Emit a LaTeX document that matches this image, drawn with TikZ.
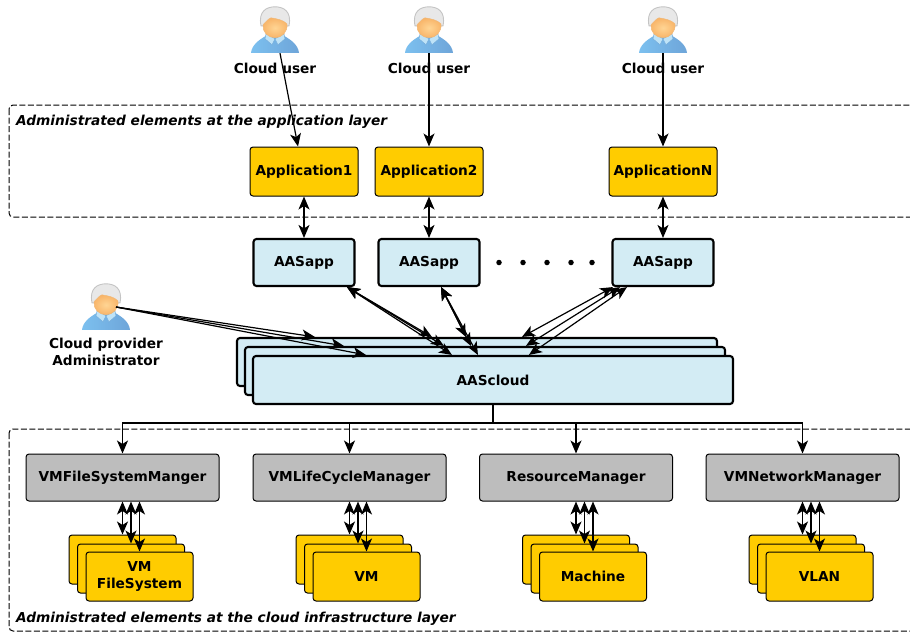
\documentclass[tikz,border=0pt]{standalone}
\usepackage{fontspec}
\setmainfont{DejaVu Sans}
\usetikzlibrary{arrows.meta}
\usetikzlibrary{positioning}
\definecolor{appyellow}{HTML}{FFCC00}
\definecolor{aasblue}{HTML}{D3ECF4}
\definecolor{mgrgray}{HTML}{BDBDBD}
\definecolor{shirtl}{HTML}{7CC0EF}
\definecolor{shirtm}{HTML}{A8DCF8}
\definecolor{shirtr}{HTML}{6EA5D9}
\definecolor{collar}{HTML}{BFE3F7}
\definecolor{collarline}{HTML}{6FA8D8}
\definecolor{hairline}{HTML}{C4C4C4}
\definecolor{hair}{HTML}{E8E8E8}
\definecolor{faceline}{HTML}{F0B878}
\definecolor{facel}{HTML}{FFD594}
\definecolor{facer}{HTML}{F8B468}
\newcommand\lblfont{\fontsize{13.7}{16}\selectfont\bfseries}
\tikzset{
	box/.style={rectangle,rounded corners=3pt,draw=black,inner sep=0pt,align=center,font=\lblfont},
	appbox/.style={box,fill=appyellow,line width=1pt,minimum width=108pt,minimum height=49pt,text height=10pt,text depth=3pt},
	aasbox/.style={box,fill=aasblue,line width=2.1pt,minimum width=101pt,minimum height=47pt,text height=10pt,text depth=3pt},
	cloudbox/.style={box,fill=aasblue,line width=2.1pt,minimum width=480pt,minimum height=48pt},
	mgrbox/.style={box,fill=mgrgray,line width=1pt,minimum width=193pt,minimum height=47pt,text height=10pt,text depth=3pt},
	resbox/.style={box,fill=appyellow,line width=1pt,minimum width=107pt,minimum height=49pt},
	layer/.style={draw=black,line width=1pt,rounded corners=4pt,dash pattern=on 6pt off 2.5pt},
	layertxt/.style={anchor=west,inner sep=0pt,font=\fontsize{13.7}{16}\selectfont\bfseries\itshape},
	lbl/.style={inner sep=0pt,align=center,font=\lblfont},
	iconbox/.style={inner sep=0pt,minimum width=48pt,minimum height=46pt},
	dotn/.style={circle,fill=black,inner sep=0pt,minimum size=5.5pt},
	one/.style={-{Stealth[length=13pt,width=11pt,inset=3.5pt]},line width=1.2pt},
	two/.style={{Stealth[length=13pt,width=11pt,inset=3.5pt]}-{Stealth[length=13pt,width=11pt,inset=3.5pt]},line width=1.2pt},
	person/.pic={
		% origin is the top of the head
		\draw[draw=none,left color=shirtl,middle color=shirtm,right color=shirtr]
			(-24,46) .. controls (-23,38) and (-16,33) .. (-9,29) -- (9,29)
			.. controls (16,33) and (23,38) .. (24,46) -- cycle;
		\draw[draw=collarline,line width=.4pt,fill=collar] (-9,27) -- (0,32) -- (-3,38) -- (-10,32) -- cycle;
		\draw[draw=collarline,line width=.4pt,fill=collar] (9,27) -- (0,32) -- (3,38) -- (10,32) -- cycle;
		\draw[draw=hairline,line width=.9pt,fill=hair] (-14,19) .. controls (-17,4) and (-8,0) .. (0,0)
			.. controls (8,0) and (17,4) .. (14,19) -- cycle;
		\draw[draw=faceline,line width=.4pt,inner color=facel,outer color=facer] (-12,18) .. controls (-9,15) and (-7,12) .. (-4,11)
			.. controls (2,12) and (8,13) .. (12,17) .. controls (13,25) and (7,31) .. (0,31)
			.. controls (-7,31) and (-13,25) .. (-12,18) -- cycle;
	},
}

\begin{document}
\begin{tikzpicture}[x=1pt,y=-1pt]
	\clip (0,0) rectangle (910,632);
	\useasboundingbox (0,0) rectangle (910,632);

	% layer frames, open on the right
	\draw[layer] (9,105) rectangle (930,217);
	\draw[layer] (9,429) rectangle (930,631);
	\node[layertxt] (layerapp) at (16,121.5) {Administrated elements at the application layer};
	\node[layertxt] (layerinf) at (16,618.5) {Administrated elements at the cloud infrastructure layer};

	% users
	\foreach \n/\x in {1/275, 2/429, 3/663}{
		\node[iconbox] (user\n) at (\x,30) {};
		\pic at (user\n.north) {person};
		\node[lbl,below=10pt of user\n] (usertxt\n) {Cloud user};
	}
	\node[iconbox] (admin) at (106,307) {};
	\pic at (admin.north) {person};
	\node[lbl,below=8pt of admin] (admintxt) {Cloud provider\\[.5pt]Administrator};

	% applications and AASapp row
	\node[appbox] (app1) at (304,171.5) {Application1};
	\node[appbox] (app2) at (429,171.5) {Application2};
	\node[appbox] (app3) at (663,171.5) {ApplicationN};
	\node[aasbox] (aas1) at (304,262.5) {AASapp};
	\node[aasbox] (aas2) at (429,262.5) {AASapp};
	\node[aasbox] (aas3) at (663,262.5) {AASapp};
	\foreach \n/\x in {1/499, 2/523, 3/547, 4/571, 5/592}
	\node[dotn] (dot\n) at (\x,262.5) {};

	% AAScloud stack
	\node[cloudbox] (cloudb) at (477,362) {};
	\node[cloudbox] (cloudm) at (485,371) {};
	\node[cloudbox] (cloudf) at (493,380) {AAScloud};

	% managers and what they manage
	\draw[line width=2pt] (cloudf.south) -- ++(0,18);
	\foreach \n/\x/\txt/\res in {1/122.5/VMFileSystemManger/{VM\\[1pt]FileSystem},
		2/349.5/VMLifeCycleManager/VM,
		3/576/ResourceManager/Machine,
		4/802.5/VMNetworkManager/VLAN}{
		\node[mgrbox] (mgr\n) at (\x,477.5) {\txt};
		\node[resbox] (resb\n) at (\x,559.5) {};
		\node[resbox] (resm\n) at (\x+8.5,568.5) {};
		\node[resbox] (resf\n) at (\x+17,576.5) {\res};
		\draw[one] (cloudf.south) -- ++(0,18) -| (mgr\n.north);
		\foreach \r in {b,m,f}
		\draw[two] (res\r\n.north |- mgr\n.south) -- (res\r\n.north);
	}

	% user arrows
	\draw[one] ([xshift=5pt]user1.south) -- ([xshift=-6pt]app1.north);
	\draw[one] (user2.south) -- (app2.north);
	\draw[one] (user3.south) -- (app3.north);
	\foreach \n in {1,2,3}
	\draw[two] (app\n.south) -- (aas\n.north);

	% AASapp to AAScloud
	\draw[two] ([xshift=43pt]aas1.south) -- ([xshift=196pt]cloudb.north west);
	\draw[two] ([xshift=43pt]aas1.south) -- ([xshift=200pt]cloudm.north west);
	\draw[two] ([xshift=43pt]aas1.south) -- ([xshift=200pt]cloudf.north west);
	\draw[two] ([xshift=12pt]aas2.south) -- ([xshift=230pt]cloudb.north west);
	\draw[two] ([xshift=12pt]aas2.south) -- ([xshift=227pt]cloudm.north west);
	\draw[two] ([xshift=12pt]aas2.south) -- ([xshift=226pt]cloudf.north west);
	\draw[two] ([xshift=-50pt]aas3.south) -- ([xshift=286pt]cloudb.north west);
	\draw[two] ([xshift=-43pt]aas3.south) -- ([xshift=282pt]cloudm.north west);
	\draw[two] ([xshift=-36pt]aas3.south) -- ([xshift=277pt]cloudf.north west);

	% administrator arrows
	\draw[one] ([xshift=10pt]admin.center) -- ([xshift=79pt]cloudb.north west);
	\draw[one] ([xshift=10pt]admin.center) -- ([xshift=100pt]cloudm.north west);
	\draw[one] ([xshift=10pt]admin.center) -- ([xshift=114pt]cloudf.north west);
\end{tikzpicture}
\end{document}
